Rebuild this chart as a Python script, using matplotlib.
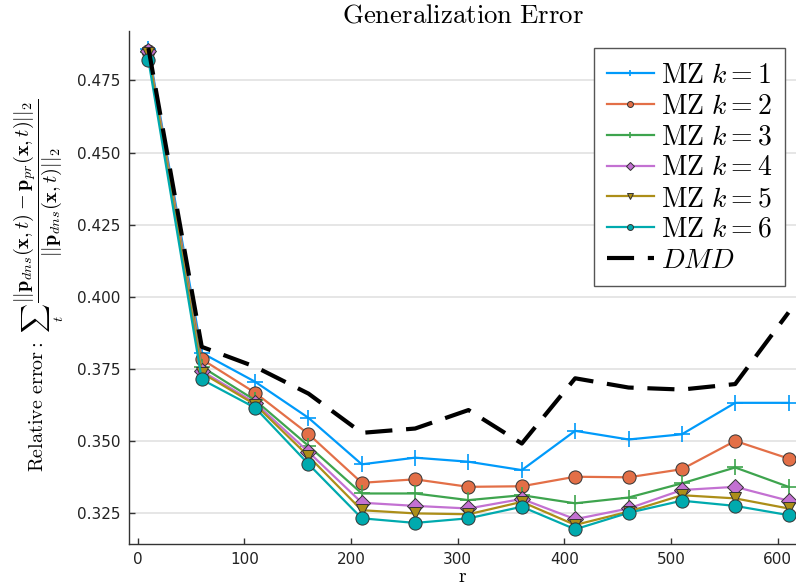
import numpy as np
import matplotlib.pyplot as plt

plt.rcParams['mathtext.fontset'] = 'cm'

# rank r and generalization error per model
r = [10, 60, 110, 160, 210, 260, 310, 360, 410, 460, 510, 560, 610]
mz1 = [0.4860, 0.3806, 0.3706, 0.3581, 0.3420, 0.3443, 0.3429, 0.3400, 0.3536, 0.3506, 0.3524, 0.3633, 0.3633]
mz2 = [0.4852, 0.3784, 0.3668, 0.3525, 0.3356, 0.3368, 0.3342, 0.3344, 0.3377, 0.3375, 0.3403, 0.3501, 0.3440]
mz3 = [0.4848, 0.3758, 0.3642, 0.3484, 0.3319, 0.3319, 0.3296, 0.3313, 0.3285, 0.3305, 0.3354, 0.3409, 0.3342]
mz4 = [0.4850, 0.3743, 0.3633, 0.3463, 0.3287, 0.3276, 0.3267, 0.3300, 0.3230, 0.3267, 0.3331, 0.3342, 0.3294]
mz5 = [0.4845, 0.3737, 0.3627, 0.3448, 0.3261, 0.3250, 0.3247, 0.3290, 0.3210, 0.3256, 0.3313, 0.3302, 0.3267]
mz6 = [0.4820, 0.3714, 0.3616, 0.3421, 0.3233, 0.3217, 0.3233, 0.3273, 0.3195, 0.3252, 0.3294, 0.3276, 0.3244]
dmd = [0.4862, 0.3827, 0.3758, 0.3665, 0.3529, 0.3544, 0.3608, 0.3492, 0.3718, 0.3686, 0.3679, 0.3698, 0.3946]

yticks = [0.325, 0.350, 0.375, 0.400, 0.425, 0.450, 0.475]
xticks = [0, 100, 200, 300, 400, 500, 600]

series = [mz1, mz2, mz3, mz4, mz5, mz6]
colors = ['#009AFA', '#E36F47', '#3EA44E', '#C371D2', '#AC8E18', '#00AAAE']
markers = ['+', 'o', '+', 'D', 'v', 'o']
msizes = [11, 9.5, 11, 8, 9, 9.5]

fig = plt.figure(figsize=(7.96, 5.87), dpi=100)
ax = fig.add_axes([129/796, 43/587, 667/796, 513/587])

for k, (ys, c, m, ms) in enumerate(zip(series, colors, markers, msizes), start=1):
    lab = r'$\mathrm{MZ}\ k = %d$' % k
    if m == '+':
        ax.plot(r, ys, color=c, lw=1.6, marker=m, ms=ms, mew=1.2, label=lab)
    else:
        ax.plot(r, ys, color=c, lw=1.6, marker=m, ms=ms, mfc=c,
                mec='#333333', mew=0.7, label=lab)

ax.plot(r, dmd, color='black', lw=3.0, ls=(0, (6.5, 3.3)), label=r'$DMD$')

ax.set_xlim(-8.2, 617)
ax.set_ylim(0.3144, 0.4921)
ax.set_xticks(xticks)
ax.set_yticks(yticks)
ax.set_yticklabels(['%.3f' % t for t in yticks])
ax.tick_params(direction='in', length=4, width=1, colors='#333333',
               labelsize=11, labelcolor='#222222')
ax.tick_params(axis='x', pad=6)
ax.tick_params(axis='y', pad=6)
ax.yaxis.grid(True, color='#e4e4e4', lw=1.3)
ax.set_axisbelow(True)
for s in ['top', 'right']:
    ax.spines[s].set_visible(False)
for s in ['left', 'bottom']:
    ax.spines[s].set_color('#333333')
    ax.spines[s].set_linewidth(1.0)

ax.set_title(r'$\mathrm{Generalization\ Error}$', fontsize=19.3, pad=6)
ax.set_xlabel(r'$\mathrm{r}$', fontsize=14, labelpad=0)
ax.set_ylabel(r'$\mathrm{Relative\ error}:\ \sum_t\,'
              r'\dfrac{||\mathbf{p}_{dns}(\mathbf{x},t)-\mathbf{p}_{pr}(\mathbf{x},t)||_2}'
              r'{||\mathbf{p}_{dns}(\mathbf{x},t)||_2}$', fontsize=14.5)
ax.yaxis.set_label_coords(-0.094, 0.505)

leg = ax.legend(loc='upper right', bbox_to_anchor=(0.9835, 0.966), borderaxespad=0,
                fontsize=20, markerscale=0.45, fancybox=False, edgecolor='#555555',
                framealpha=1, handlelength=1.7, labelspacing=0.1, handletextpad=0.25,
                borderpad=0.45)
leg.get_frame().set_linewidth(1.0)

fig.savefig('out.png', dpi=100)
